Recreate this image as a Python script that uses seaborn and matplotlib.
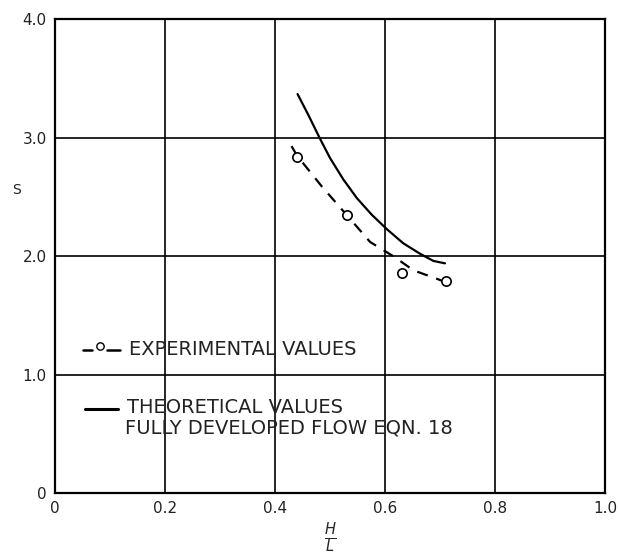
import matplotlib
matplotlib.use("Agg")
import matplotlib.pyplot as plt
import seaborn as sns
import pandas as pd

# Data
exp_x = [0.44, 0.53, 0.63, 0.71]
exp_y = [2.84, 2.35, 1.86, 1.79]

fit_x = [0.43, 0.44, 0.485, 0.53, 0.573, 0.615, 0.652, 0.694, 0.71]
fit_y = [2.93, 2.85, 2.59, 2.35, 2.12, 2.00, 1.88, 1.81, 1.78]

theo_x = [0.441, 0.461, 0.481, 0.500, 0.524, 0.549, 0.576, 0.603, 0.633, 0.664, 0.688, 0.709]
theo_y = [3.37, 3.19, 3.00, 2.83, 2.65, 2.49, 2.35, 2.23, 2.11, 2.02, 1.96, 1.94]

x_ticks = [0.0, 0.2, 0.4, 0.6, 0.8, 1.0]
x_labels = ["0", "0.2", "0.4", "0.6", "0.8", "1.0"]
y_ticks = [0.0, 1.0, 2.0, 3.0, 4.0]
y_labels = ["0", "1.0", "2.0", "3.0", "4.0"]

sns.set_style("white")
plt.rcParams['font.family'] = ['DejaVu Sans']

fig = plt.figure(figsize=(6.18, 5.57), dpi=100)
ax = fig.add_axes([0.089, 0.115, 0.890, 0.850])

df_fit = pd.DataFrame({"x": fit_x, "y": fit_y})
df_theo = pd.DataFrame({"x": theo_x, "y": theo_y})
df_exp = pd.DataFrame({"x": exp_x, "y": exp_y})

sns.lineplot(data=df_theo, x="x", y="y", ax=ax, color="black", lw=1.6,
             sort=False, estimator=None)
sns.lineplot(data=df_fit, x="x", y="y", ax=ax, color="black", lw=1.6,
             sort=False, estimator=None, linestyle=(0, (5, 4)))
sns.scatterplot(data=df_exp, x="x", y="y", ax=ax, s=45, marker="o",
                facecolor="white", edgecolor="black", linewidth=1.2, zorder=5)

ax.set_xlim(0, 1.0)
ax.set_ylim(0, 4.0)
ax.set_xticks(x_ticks)
ax.set_xticklabels(x_labels, fontsize=11, color="#222222")
ax.set_yticks(y_ticks)
ax.set_yticklabels(y_labels, fontsize=11, color="#222222")
ax.tick_params(length=0, pad=6)
ax.grid(True, color="black", lw=1.2)
for s in ax.spines.values():
    s.set_color("black")
    s.set_linewidth(1.6)

ax.set_xlabel("")
ax.set_ylabel("")
fig.text(0.027, 0.659, "S", fontsize=10, ha="center", va="center", color="#222222")
fig.text(0.534, 0.035, r"$\frac{H}{L}$", fontsize=15, ha="center", va="center")

# In-plot legend
ly1 = 1.21
ax.plot([0.051, 0.067], [ly1, ly1], color="black", lw=1.8)
ax.plot([0.095, 0.118], [ly1, ly1], color="black", lw=1.8)
ax.scatter([0.081], [ly1 + 0.03], s=28, facecolor="white", edgecolor="black", lw=1.0, zorder=5)
ax.text(0.135, ly1, "EXPERIMENTAL VALUES", fontsize=14, va="center", ha="left",
        color="#222222")
ax.plot([0.055, 0.115], [0.71, 0.71], color="black", lw=2.2)
ax.text(0.131, 0.72, "THEORETICAL VALUES", fontsize=14, va="center", ha="left",
        color="#222222")
ax.text(0.128, 0.55, "FULLY DEVELOPED FLOW EQN. 18", fontsize=14, va="center",
        ha="left", color="#222222")

fig.savefig("out.png", dpi=100, facecolor="white")
